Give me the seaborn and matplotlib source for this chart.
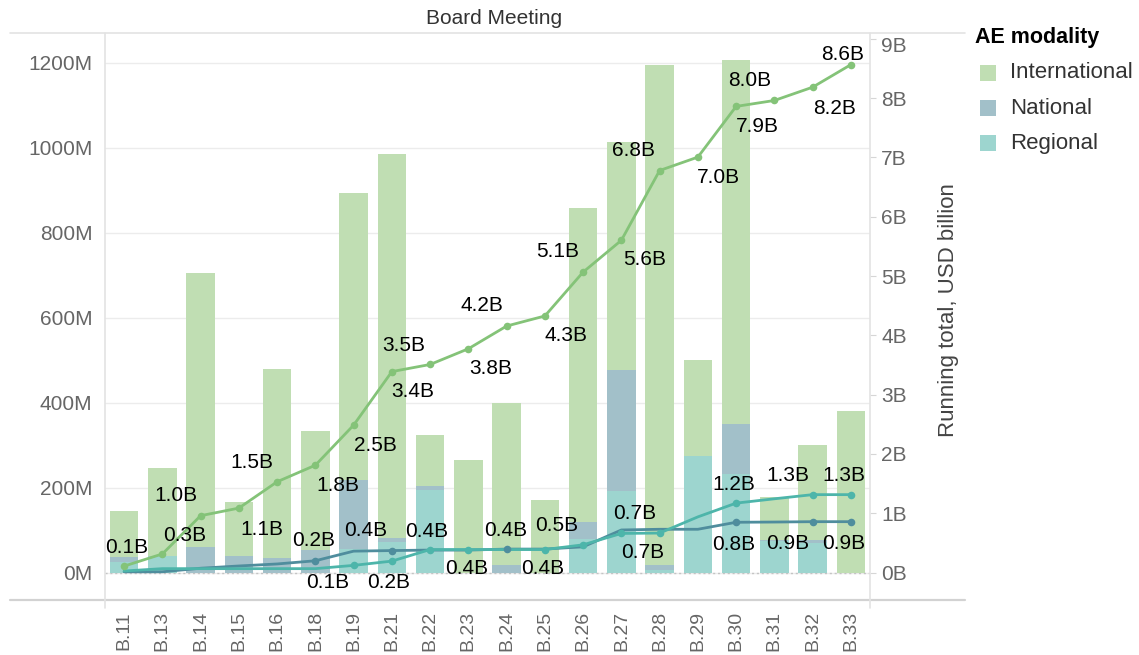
import numpy as np
import pandas as pd
import matplotlib
matplotlib.use("Agg")
import matplotlib.pyplot as plt
import matplotlib.transforms as mtransforms
import seaborn as sns
from matplotlib.lines import Line2D
from matplotlib.patches import Rectangle

# ---------------- data (USD million per board meeting) ----------------
categories = ["B.11", "B.13", "B.14", "B.15", "B.16", "B.18", "B.19", "B.21", "B.22", "B.23",
              "B.24", "B.25", "B.26", "B.27", "B.28", "B.29", "B.30", "B.31", "B.32", "B.33"]
regional = [25, 40, 0, 0, 0, 0, 55, 72, 195, 0, 0, 0, 80, 192, 6, 273, 232, 73, 70, 0]
national = [12, 0, 60, 38, 34, 54, 162, 10, 8, 0, 17, 0, 38, 284, 12, 0, 118, 4, 6, 0]
international = [108, 205, 645, 128, 444, 279, 676, 903, 120, 265, 383, 170, 740, 536, 1177,
                 226, 855, 100, 224, 380]
series_names = ["International", "National", "Regional"]
left_ticks = [0, 200, 400, 600, 800, 1000, 1200]
right_ticks = [0, 1, 2, 3, 4, 5, 6, 7, 8, 9]

# label placement (offset in pixels) for running-total labels
intl_label_offsets = [(3, 19), (22, 18), (-25, 20), (23, -21), (-25, 19), (22, -20), (22, -20),
                      (21, -20), (-26, 19), (22, -20), (-25, 21), (21, -20), (-25, 21), (23, -19),
                      (-26, 20), (21, -20), (21, -20), (-25, 20), (22, -21), (-8, 10)]
national_label_offsets = {5: (-2, 20), 7: (-26, 20), 10: (-1, 19), 16: (-2, -22),
                          18: (-25, -22), 19: (-7, -22)}
regional_label_offsets = {6: (-26, -17), 7: (-3, -21), 8: (-3, 18), 9: (-2, -19), 11: (-2, -19),
                          12: (-26, 19), 13: (13, 20), 14: (-17, -19), 16: (-2, 19),
                          18: (-25, 19), 19: (-7, 19)}

# ---------------- styles ----------------
C_INT, C_NAT, C_REG = "#c0deb3", "#a2c0c9", "#9dd5cf"
L_INT, L_NAT, L_REG = "#84c378", "#4f8d9d", "#4db5aa"
GRID = "#ececec"
TICK_C = "#666666"

sns.set_style("white")
plt.rcParams["font.family"] = ["Liberation Sans", "DejaVu Sans"]

W, H = 1139, 655
fig = plt.figure(figsize=(W / 100, H / 100), dpi=100)
x0, x1, y0, y1 = 105, 870, 33, 600  # plot area in pixels (top-left origin)
ax = fig.add_axes([x0 / W, 1 - y1 / H, (x1 - x0) / W, (y1 - y0) / H])

df = pd.DataFrame({"meeting": categories, "Regional": regional,
                   "National": national, "International": international})
df["reg_nat"] = df["Regional"] + df["National"]
df["total"] = df["reg_nat"] + df["International"]

for col, colr in [("total", C_INT), ("reg_nat", C_NAT), ("Regional", C_REG)]:
    sns.barplot(data=df, x="meeting", y=col, order=categories, color=colr, saturation=1,
                width=0.74, linewidth=0, ax=ax, zorder=2)

zero_px = 572.5
ppm = 0.425  # pixels per million
ax.set_ylim(-(y1 - zero_px) / ppm, (zero_px - y0) / ppm)
ax.set_xlim(-0.5, len(categories) - 0.5)
ax.set_yticks(left_ticks)
ax.set_yticklabels([f"{t}M" for t in left_ticks])
ax.yaxis.grid(True, color=GRID, lw=1)
ax.set_axisbelow(True)
ax.axhline(0, color="#c4c4c4", ls=(0, (1.5, 2)), lw=1, zorder=1.5)
ax.set_xlabel("")
ax.set_ylabel("")
ax.tick_params(axis="y", length=0, labelsize=15, labelcolor=TICK_C, pad=9)
ax.tick_params(axis="x", which="major", length=0, labelsize=14, labelcolor=TICK_C,
               rotation=90, pad=8)
ax.set_xticks(np.arange(-0.5, len(categories), 1), minor=True)
ax.tick_params(axis="x", which="minor", length=9, color="#e2e2e2", width=1)
for s in ax.spines.values():
    s.set_visible(False)

# ---------------- running totals on secondary axis ----------------
ax2 = ax.twinx()
xpos = np.arange(len(categories))
cum_int = np.cumsum(international) / 1000.0
cum_nat = np.cumsum(national) / 1000.0
cum_reg = np.cumsum(regional) / 1000.0

ppb = 59.3
ax2.set_ylim(-(y1 - zero_px) / ppb, (zero_px - y0) / ppb)
ax2.set_yticks(right_ticks)
ax2.set_yticklabels([f"{t}B" for t in right_ticks])
ax2.tick_params(axis="y", length=4, color="#d6d6d6", labelsize=15, labelcolor=TICK_C, pad=4)
top_lbl = ax2.get_yticklabels()[-1]
top_lbl.set_transform(top_lbl.get_transform() +
                      mtransforms.ScaledTranslation(0, -6 / 100, fig.dpi_scale_trans))
for s in ax2.spines.values():
    s.set_visible(False)
ax2.set_ylabel("Running total, USD billion", fontsize=16, color="#444444")
ax2.yaxis.set_label_coords((938 - x0) / (x1 - x0), (y1 - 310) / (y1 - y0))

for cum, lc in [(cum_nat, L_NAT), (cum_reg, L_REG), (cum_int, L_INT)]:
    sns.lineplot(x=xpos, y=cum, color=lc, lw=2, ax=ax2, zorder=4)

# markers and labels
sns.scatterplot(x=xpos, y=cum_int, color=L_INT, s=30, linewidth=0, ax=ax2, zorder=5)
for i, (dx, dy) in enumerate(intl_label_offsets):
    ax2.annotate(f"{cum_int[i]:.1f}B", (xpos[i], cum_int[i]), xytext=(dx, dy),
                 textcoords="offset pixels", ha="center", va="center", fontsize=15,
                 color="black", zorder=6)
for cum, lc, offs in [(cum_nat, L_NAT, national_label_offsets),
                      (cum_reg, L_REG, regional_label_offsets)]:
    idx = sorted(offs)
    sns.scatterplot(x=xpos[idx], y=cum[idx], color=lc, s=30, linewidth=0, ax=ax2, zorder=5)
    for i in idx:
        dx, dy = offs[i]
        ax2.annotate(f"{cum[i]:.1f}B", (xpos[i], cum[i]), xytext=(dx, dy),
                     textcoords="offset pixels", ha="center", va="center", fontsize=15,
                     color="black", zorder=6)
ax2.set_xlim(-0.5, len(categories) - 0.5)


# ---------------- frame lines (pixel coords) ----------------
def fline(xa, ya, xb, yb, c, lw):
    fig.add_artist(Line2D([xa / W, xb / W], [1 - ya / H, 1 - yb / H], color=c, lw=lw,
                          transform=fig.transFigure, zorder=10))


fline(10, y0, 965, y0, "#e3e3e3", 1.2)
fline(10, y1, 965, y1, "#d2d2d2", 1.6)
fline(x0, y0, x0, y1 + 8, "#e3e3e3", 1.2)
fline(x1, y0, x1, y1 + 8, "#e3e3e3", 1.2)

# ---------------- title ----------------
fig.text(494 / W, 1 - 18 / H, "Board Meeting", ha="center", va="center", fontsize=15,
         color="#333333")

# ---------------- legend ----------------
fig.text(975 / W, 1 - 38 / H, "AE modality", ha="left", va="center", fontsize=15.5,
         fontweight="bold", color="black")
for k, (name, colr) in enumerate(zip(series_names, [C_INT, C_NAT, C_REG])):
    yc = 73 + 35 * k
    fig.add_artist(Rectangle((980 / W, 1 - (yc + 8) / H), 16 / W, 16 / H, color=colr,
                             transform=fig.transFigure, lw=0))
    fig.text(1010 / W, 1 - yc / H, name, ha="left", va="center", fontsize=16, color="#333333")

fig.savefig("out.png", dpi=100)
